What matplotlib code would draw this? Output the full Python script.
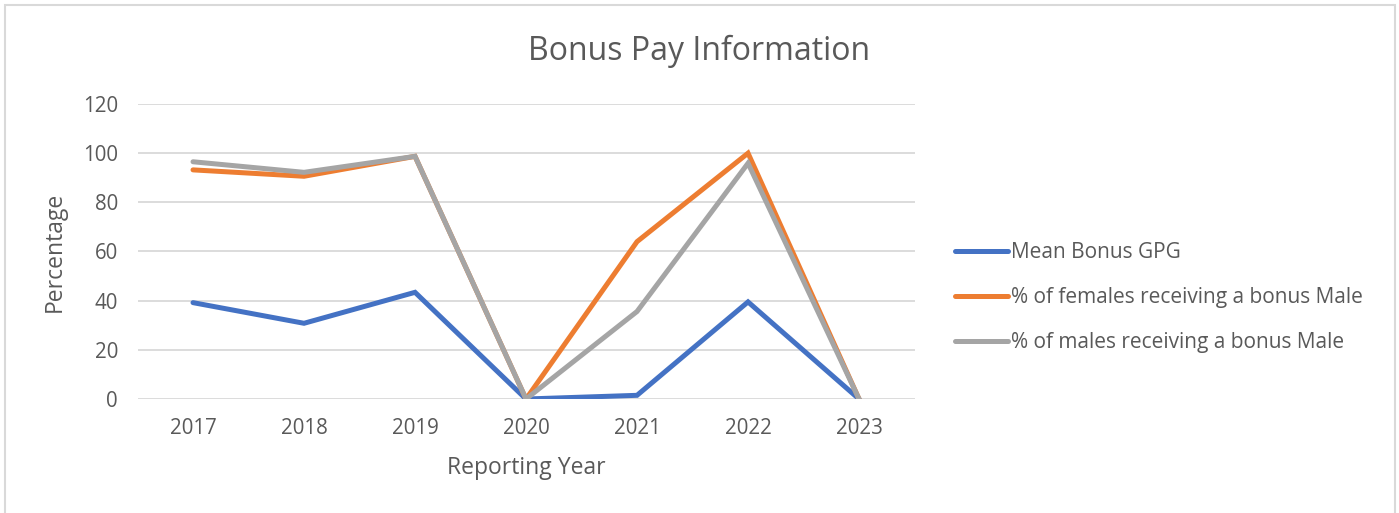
import matplotlib.pyplot as plt
from matplotlib.patches import Rectangle

years = ["2017", "2018", "2019", "2020", "2021", "2022", "2023"]
mean_bonus_gpg = [39.2, 30.8, 43.4, 0, 1.5, 39.5, 0]
pct_females_bonus = [93.2, 90.6, 98.7, 0, 64.0, 100.0, 0]
pct_males_bonus = [96.5, 92.2, 98.7, 0, 35.6, 95.9, 0]

names = ["Mean Bonus GPG",
         "% of females receiving a bonus Male",
         "% of males receiving a bonus Male"]
colors = ["#4472C4", "#ED7D31", "#A5A5A5"]

txt = "#595959"
plt.rcParams['font.family'] = ['Open Sans', 'DejaVu Sans']

fig = plt.figure(figsize=(13.99, 5.13), dpi=100)
# light chart-area border (open at the bottom, as in the screenshot)
fig.patches.append(Rectangle((0.0036, -0.02), 0.9932, 1.01, transform=fig.transFigure,
                             fill=False, edgecolor="#d9d9d9", lw=1.5))
ax = fig.add_axes([0.0983, 0.2222, 0.5554, 0.5751])

x = range(len(years))
for vals, name, c in zip([mean_bonus_gpg, pct_females_bonus, pct_males_bonus], names, colors):
    ax.plot(x, vals, color=c, lw=3.6, label=name, solid_capstyle='round', solid_joinstyle='miter')

ax.set_xlim(-0.5, len(years) - 0.5)
ax.set_ylim(0, 120)
ax.set_yticks(range(0, 121, 20))
ax.set_xticks(list(x))
ax.set_xticklabels(years)
ax.grid(axis='y', color="#d9d9d9", lw=1.3)
ax.set_axisbelow(True)
for s in ax.spines.values():
    s.set_visible(False)
ax.tick_params(length=0, labelsize=14.8, labelcolor=txt)
ax.tick_params(axis='x', pad=14)
ax.tick_params(axis='y', pad=14)

ax.set_xlabel("Reporting Year", fontsize=16.5, color=txt, labelpad=12)
ax.set_ylabel("Percentage", fontsize=16.5, color=txt, labelpad=12)
fig.text(0.5, 0.9, "Bonus Pay Information", fontsize=23, color=txt, ha='center', va='center')

leg = ax.legend(loc='center left', bbox_to_anchor=(0.6826, 0.42), bbox_transform=fig.transFigure,
                frameon=False, fontsize=15, handlelength=2.55, handletextpad=0.15,
                labelspacing=1.15, borderpad=0, borderaxespad=0)
for t in leg.get_texts():
    t.set_color(txt)

fig.savefig("out.png", dpi=100)
